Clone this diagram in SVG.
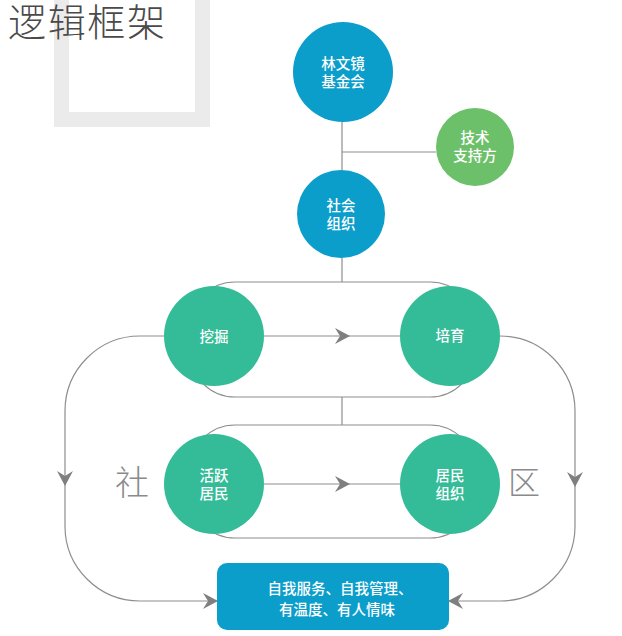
<svg xmlns="http://www.w3.org/2000/svg" xmlns:xlink="http://www.w3.org/1999/xlink" width="622" height="636" viewBox="0 0 622 636">
<style>
.ln{fill:none;stroke:#8e8e8e;stroke-width:1.2}
.ah{fill:#7f7f80}
.t{font-family:"Noto Sans CJK SC","Noto Sans",sans-serif;font-size:14.5px;fill:#ffffff;text-anchor:middle;font-weight:500}
.big{font-family:"Noto Sans CJK SC","Noto Sans",sans-serif;fill:#8a8a8a;text-anchor:middle}
.blue{fill:#0b9ecb}
.teal{fill:#33bc97}
.green{fill:#6cc06a}
</style>
<defs>
<polygon id="ah" points="0,0 -15,-8 -10,0 -15,8"/>
</defs>
<rect width="622" height="636" fill="#ffffff"/>
<g id="title">
<path d="M54,0 H210 V127 H54 Z M69,0 V112 H195 V0 Z" fill="#ebebeb" fill-rule="evenodd"/>
<text x="8" y="36" font-family="'Noto Sans CJK SC',sans-serif" font-size="38" font-weight="300" fill="#4a4a4a" textLength="157">逻辑框架</text>
</g>
<g id="connectors">
<line class="ln" x1="342" y1="122" x2="342" y2="170"/>
<line class="ln" x1="342" y1="152" x2="436" y2="152"/>
<line class="ln" x1="342" y1="258" x2="342" y2="282"/>
<rect class="ln" x="190" y="282" width="285" height="115" rx="45"/>
<line class="ln" x1="342" y1="397" x2="342" y2="425"/>
<rect class="ln" x="190" y="425" width="285" height="113" rx="45"/>
<line class="ln" x1="264" y1="336" x2="400" y2="336"/>
<line class="ln" x1="264" y1="484" x2="400" y2="484"/>
<path class="ln" d="M164,336 H140 A75,75 0 0 0 65,411 V526 A75,75 0 0 0 140,601 H217"/>
<path class="ln" d="M500,336 A75,75 0 0 1 575,411 V526 A75,75 0 0 1 500,601 H449"/>
<use xlink:href="#ah" class="ah" transform="translate(350,336)"/>
<use xlink:href="#ah" class="ah" transform="translate(350,484)"/>
<use xlink:href="#ah" class="ah" transform="translate(65,486) rotate(90)"/>
<use xlink:href="#ah" class="ah" transform="translate(575,487) rotate(90)"/>
<use xlink:href="#ah" class="ah" transform="translate(218,601)"/>
<use xlink:href="#ah" class="ah" transform="translate(448,601) rotate(180)"/>
</g>
<g id="n-foundation">
<circle class="blue" cx="343" cy="72" r="50"/>
<text class="t" x="343" y="69">林文镜</text>
<text class="t" x="343" y="87">基金会</text>
</g>
<g id="n-tech">
<circle class="green" cx="475" cy="147" r="39"/>
<text class="t" x="475" y="143">技术</text>
<text class="t" x="475" y="161">支持方</text>
</g>
<g id="n-social-org">
<circle class="blue" cx="341" cy="214" r="44"/>
<text class="t" x="341" y="211">社会</text>
<text class="t" x="341" y="229">组织</text>
</g>
<g id="n-dig">
<circle class="teal" cx="214" cy="336" r="50"/>
<text class="t" x="214" y="342">挖掘</text>
</g>
<g id="n-cultivate">
<circle class="teal" cx="450" cy="336" r="50"/>
<text class="t" x="450" y="341">培育</text>
</g>
<g id="n-active">
<circle class="teal" cx="214" cy="484" r="50"/>
<text class="t" x="214" y="481">活跃</text>
<text class="t" x="214" y="499">居民</text>
</g>
<g id="n-resident-org">
<circle class="teal" cx="450" cy="484" r="50"/>
<text class="t" x="450" y="481">居民</text>
<text class="t" x="450" y="499">组织</text>
</g>
<g id="n-result">
<rect class="blue" x="217" y="563" width="232" height="67" rx="10"/>
<text class="t" x="340" y="594">自我服务、自我管理、</text>
<text class="t" x="337" y="615">有温度、有人情味</text>
</g>
<g id="labels">
<text class="big" x="132" y="495" font-size="34" font-weight="300">社</text>
<text class="big" x="524" y="494" font-size="32" font-weight="300">区</text>
</g>
</svg>
